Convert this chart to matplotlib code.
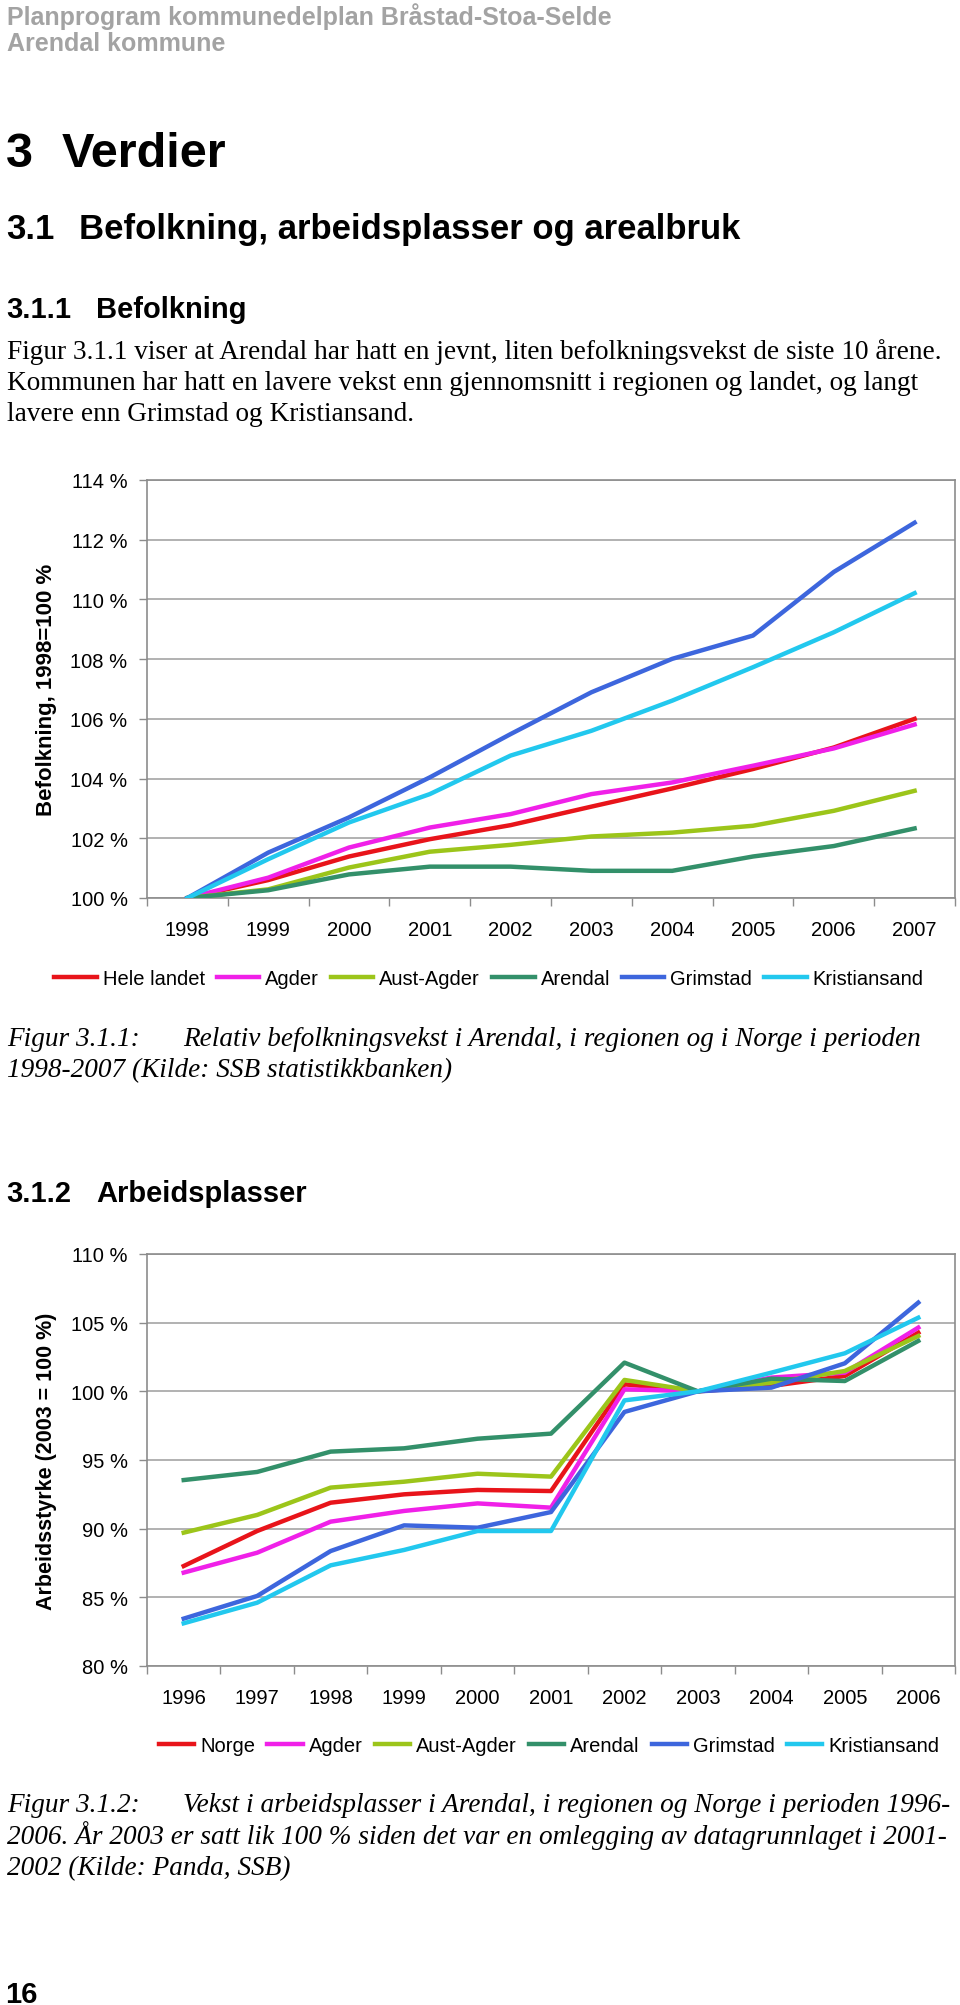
import matplotlib
matplotlib.use("Agg")
import matplotlib.pyplot as plt
import numpy as np

# -------- Data: figure 3.1.1, population (1998 = 100 %) --------
years_pop = ["1998", "1999", "2000", "2001", "2002", "2003", "2004", "2005", "2006", "2007"]
pop_hele_landet = [100.0, 100.60, 101.39, 101.97, 102.44, 103.06, 103.67, 104.32, 105.04, 106.00]
pop_agder = [100.0, 100.68, 101.69, 102.36, 102.81, 103.48, 103.87, 104.43, 105.01, 105.81]
pop_aust_agder = [100.0, 100.29, 101.02, 101.55, 101.78, 102.06, 102.19, 102.42, 102.92, 103.59]
pop_arendal = [100.0, 100.26, 100.79, 101.05, 101.05, 100.91, 100.91, 101.39, 101.74, 102.33]
pop_grimstad = [100.0, 101.52, 102.70, 104.04, 105.49, 106.89, 108.01, 108.79, 110.92, 112.57]
pop_kristiansand = [100.0, 101.30, 102.53, 103.48, 104.77, 105.60, 106.61, 107.73, 108.90, 110.21]

# -------- Data: figure 3.1.2, workforce (2003 = 100 %) --------
years_work = ["1996", "1997", "1998", "1999", "2000", "2001", "2002", "2003", "2004", "2005", "2006"]
work_norge = [87.28, 89.83, 91.89, 92.50, 92.82, 92.74, 100.51, 100.0, 100.39, 101.12, 104.27]
work_agder = [86.80, 88.25, 90.51, 91.29, 91.84, 91.53, 100.15, 100.0, 101.00, 101.36, 104.64]
work_aust_agder = [89.71, 91.00, 92.99, 93.42, 94.00, 93.79, 100.83, 100.0, 100.63, 101.48, 104.03]
work_arendal = [93.54, 94.13, 95.61, 95.85, 96.55, 96.92, 102.09, 100.0, 100.92, 100.75, 103.67]
work_grimstad = [83.45, 85.10, 88.37, 90.24, 90.07, 91.21, 98.50, 100.0, 100.27, 102.04, 106.46]
work_kristiansand = [83.11, 84.61, 87.33, 88.45, 89.83, 89.83, 99.34, 100.0, 101.36, 102.77, 105.36]

COLORS = ["#E8141A", "#F020E8", "#9CC51A", "#33906A", "#3D66DD", "#22C8EE"]

SANS = "Liberation Sans"
SERIF = "Liberation Serif"
W, H = 960, 2006
BODY = 19.6

fig = plt.figure(figsize=(W / 100, H / 100), dpi=100)
fig.patch.set_facecolor("white")


def txt(x, y, s, **kw):
    kw.setdefault("va", "baseline")
    fig.text(x / W, 1 - y / H, s, **kw)


def add_ax(l, t, r, b):
    return fig.add_axes([l / W, 1 - b / H, (r - l) / W, (b - t) / H])


def draw_chart(ax, cats, series, labels, ylim, ystep, ylabel, ylabel_size,
               legend_x, legend_y, handlelen):
    n = len(cats)
    x = np.arange(n)
    handles = []
    for vals, col in zip(series, COLORS):
        h, = ax.plot(x, vals, color=col, lw=3.2, zorder=3)
        handles.append(h)
    ax.set_xlim(-0.5, n - 0.5)
    ax.set_ylim(*ylim)
    yt = np.arange(ylim[0], ylim[1] + 0.1, ystep)
    ax.set_yticks(yt)
    ax.set_yticklabels([f"{int(v)} %" for v in yt], fontfamily=SANS)
    ax.set_xticks(x)
    ax.set_xticklabels(cats, fontfamily=SANS)
    ax.set_xticks(np.arange(-0.5, n), minor=True)
    ax.yaxis.grid(True, color="#ABABAB", lw=1.3)
    ax.set_axisbelow(True)
    for sp in ax.spines.values():
        sp.set_color("#8C8C8C")
        sp.set_linewidth(1.2)
    ax.tick_params(axis="y", length=6, width=1, color="#8C8C8C", pad=8, labelsize=14.5)
    ax.tick_params(axis="x", which="major", length=0, pad=16, labelsize=14.5)
    ax.tick_params(axis="x", which="minor", length=6, width=1, color="#8C8C8C")
    ax.set_ylabel(ylabel, fontfamily=SANS, fontweight="bold", fontsize=ylabel_size, labelpad=10)
    fig.legend(handles, labels, loc="center", bbox_to_anchor=(legend_x / W, 1 - legend_y / H),
               ncol=6, frameon=False, prop={"family": SANS, "size": 14.5},
               handlelength=handlelen, handletextpad=0.3, columnspacing=0.6)


# -------- Page header --------
gray = "#A3A3A3"
txt(7, 25, "Planprogram kommunedelplan Bråstad-Stoa-Selde", fontfamily=SANS,
    fontweight="bold", fontsize=18, color=gray)
txt(7, 51, "Arendal kommune", fontfamily=SANS, fontweight="bold", fontsize=18, color=gray)

txt(6, 167, "3", fontfamily=SANS, fontweight="bold", fontsize=35)
txt(62, 167, "Verdier", fontfamily=SANS, fontweight="bold", fontsize=35)
txt(6, 239, "3.1", fontfamily=SANS, fontweight="bold", fontsize=25)
txt(79, 239, "Befolkning, arbeidsplasser og arealbruk", fontfamily=SANS,
    fontweight="bold", fontsize=25)
txt(6, 318, "3.1.1", fontfamily=SANS, fontweight="bold", fontsize=21)
txt(96, 318, "Befolkning", fontfamily=SANS, fontweight="bold", fontsize=21)

body = [
    "Figur 3.1.1 viser at Arendal har hatt en jevnt, liten befolkningsvekst de siste 10 årene.",
    "Kommunen har hatt en lavere vekst enn gjennomsnitt i regionen og landet, og langt",
    "lavere enn Grimstad og Kristiansand.",
]
for i, line in enumerate(body):
    txt(7, 359 + 31 * i, line, fontfamily=SERIF, fontsize=BODY)

# -------- Chart 1 --------
ax1 = add_ax(147, 481, 955, 899)
draw_chart(ax1, years_pop,
           [pop_hele_landet, pop_agder, pop_aust_agder, pop_arendal, pop_grimstad, pop_kristiansand],
           ["Hele landet", "Agder", "Aust-Agder", "Arendal", "Grimstad", "Kristiansand"],
           (100, 114), 2, "Befolkning, 1998=100 %", 16, 489, 980, 2.1)

txt(7, 1046, "Figur 3.1.1:", fontfamily=SERIF, fontstyle="italic", fontsize=BODY)
txt(183, 1046, "Relativ befolkningsvekst i Arendal, i regionen og i Norge i perioden",
    fontfamily=SERIF, fontstyle="italic", fontsize=BODY)
txt(7, 1077, "1998-2007 (Kilde: SSB statistikkbanken)", fontfamily=SERIF,
    fontstyle="italic", fontsize=BODY)

txt(6, 1202, "3.1.2", fontfamily=SANS, fontweight="bold", fontsize=21)
txt(96, 1202, "Arbeidsplasser", fontfamily=SANS, fontweight="bold", fontsize=21)

# -------- Chart 2 --------
ax2 = add_ax(147, 1255, 955, 1667)
draw_chart(ax2, years_work,
           [work_norge, work_agder, work_aust_agder, work_arendal, work_grimstad, work_kristiansand],
           ["Norge", "Agder", "Aust-Agder", "Arendal", "Grimstad", "Kristiansand"],
           (80, 110), 5, "Arbeidsstyrke (2003 = 100 %)", 15.5, 549, 1747, 1.75)

txt(7, 1812, "Figur 3.1.2:", fontfamily=SERIF, fontstyle="italic", fontsize=BODY)
txt(183, 1812, "Vekst i arbeidsplasser i Arendal, i regionen og Norge i perioden 1996-",
    fontfamily=SERIF, fontstyle="italic", fontsize=BODY)
txt(7, 1844, "2006. År 2003 er satt lik 100 % siden det var en omlegging av datagrunnlaget i 2001-",
    fontfamily=SERIF, fontstyle="italic", fontsize=BODY)
txt(7, 1875, "2002 (Kilde: Panda, SSB)", fontfamily=SERIF, fontstyle="italic", fontsize=BODY)

txt(5, 2003, "16", fontfamily=SANS, fontweight="bold", fontsize=21)

fig.savefig("out.png", dpi=100, facecolor="white")
